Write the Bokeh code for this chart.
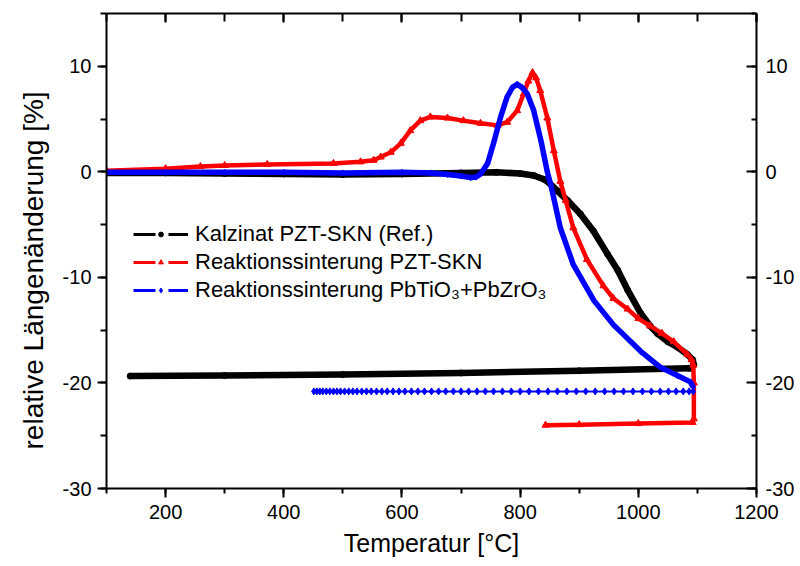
from bokeh.plotting import figure
from bokeh.models import (LinearAxis, Range1d, SingleIntervalTicker, Legend, LegendItem,
                          PrintfTickFormatter)
from bokeh.embed import file_html
from bokeh.resources import INLINE

# ---- data ----
black_T = [100, 200, 300, 400, 500, 600, 700, 760, 800, 823, 840, 850, 863, 880, 902, 924, 948, 965,
           982, 1004, 1020, 1032, 1050, 1066, 1083, 1092, 1094, 1090, 1085, 900, 700, 500, 300, 140]
black_y = [-0.1, -0.1, -0.15, -0.2, -0.25, -0.2, -0.1, -0.05, -0.15, -0.35, -0.7, -1.1, -1.8, -2.7, -4.0,
           -5.6, -7.8, -9.3, -11.2, -13.4, -14.6, -15.3, -16.1, -16.6, -17.3, -17.8, -18.3, -18.6, -18.6,
           -18.85, -19.05, -19.2, -19.3, -19.35]

red_T = [100, 200, 259, 300, 372, 484, 530, 552, 564, 581, 598, 614, 631, 648, 677, 704, 733, 762, 778,
         795, 806, 814, 821, 827, 834, 846, 857, 868, 877, 890, 913, 941, 958, 982, 1000, 1020, 1040, 1060,
         1083, 1090, 1093, 1094, 1094, 1092, 1000, 900, 843]
red_y = [0.1, 0.3, 0.5, 0.6, 0.7, 0.8, 0.95, 1.1, 1.4, 1.85, 2.7, 3.9, 4.85, 5.2, 5.1, 4.85, 4.6, 4.4, 4.7,
         5.8, 7.4, 8.6, 9.4, 8.9, 7.7, 5.1, 2.0, -0.9, -2.7, -5.3, -8.3, -10.8, -12.0, -13.0, -13.9, -14.6,
         -15.3, -16.1, -17.3, -17.8, -18.3, -20.0, -23.4, -23.75, -23.85, -23.95, -24.0]

blue_T = [100, 200, 300, 400, 500, 600, 650, 677, 700, 716, 725, 733, 745, 755, 767, 778, 787, 795, 803,
          812, 823, 835, 846, 853, 868, 890, 925, 958, 1004, 1037, 1066, 1088, 1093]
blue_y = [-0.05, -0.05, -0.05, -0.05, -0.1, -0.05, -0.1, -0.25, -0.4, -0.55, -0.5, -0.2, 0.8, 2.7, 5.2,
          7.1, 8.0, 8.3, 8.0, 7.4, 5.8, 3.0, 0.0, -1.5, -5.3, -8.8, -12.2, -14.5, -17.0, -18.5, -19.3,
          -19.9, -20.4]

blue_cool_T = [1093, 1086, 1076, 1064, 1051, 1037, 1022, 1007, 991, 975, 959, 943, 927, 911, 895, 879,
               863, 847, 831, 815, 800, 785, 770, 755, 741, 727, 713, 700, 687, 674, 662, 650, 638, 627,
               616, 605, 595, 585, 575, 566, 557, 548, 540, 532, 524, 517, 510, 503, 496, 490, 484, 478,
               472, 466, 461, 456, 451]
blue_cool_y = [-20.8] * len(blue_cool_T)

labels = ["Kalzinat PZT-SKN (Ref.)",
          "Reaktionssinterung PZT-SKN",
          "Reaktionssinterung PbTiO\u2083+PbZrO\u2083"]
x_title = "Temperatur [°C]"
y_title = "relative Längenänderung [%]"

FONT = "Liberation Sans"

p = figure(frame_width=650, frame_height=475,
           min_border_left=106, min_border_right=44, min_border_top=13, min_border_bottom=78,
           x_range=Range1d(100, 1200), y_range=Range1d(-30, 15),
           output_backend="svg", toolbar_location=None,
           x_axis_label=x_title,
           # non-breaking spaces push the centred title slightly downwards, as in the reference
           y_axis_label=y_title + "\u00a0" * 5)
p.grid.visible = False
p.outline_line_color = None
p.background_fill_color = "white"
p.border_fill_color = "white"

p.xaxis[0].ticker = SingleIntervalTicker(interval=200, num_minor_ticks=2)
p.yaxis[0].ticker = SingleIntervalTicker(interval=10, num_minor_ticks=2)


def style_axis(ax, tin, tout, mtin, mtout, standoff, labsize="20px", axsize="25px"):
    ax.axis_line_width = 2
    ax.major_tick_line_width = 2
    ax.minor_tick_line_width = 2
    ax.major_tick_in = tin
    ax.major_tick_out = tout
    ax.minor_tick_in = mtin
    ax.minor_tick_out = mtout
    ax.major_label_standoff = standoff
    ax.major_label_text_font = FONT
    ax.major_label_text_font_size = labsize
    ax.major_label_text_color = "black"
    ax.axis_label_text_font = FONT
    ax.axis_label_text_font_size = axsize
    ax.axis_label_text_font_style = "normal"
    ax.axis_label_text_color = "black"
    ax.formatter = PrintfTickFormatter(format="%d")


style_axis(p.xaxis[0], 0, 9, 0, 5, 7, axsize="25px")
p.xaxis[0].axis_label_standoff = 7
style_axis(p.yaxis[0], 0, 9, 0, 6, 6, axsize="28px")
p.yaxis[0].axis_label_standoff = 11

top = LinearAxis(ticker=SingleIntervalTicker(interval=200, num_minor_ticks=2))
style_axis(top, 9, 0, 8, 0, 0, labsize="0px")
top.major_label_text_alpha = 0
p.add_layout(top, "above")

right = LinearAxis(ticker=SingleIntervalTicker(interval=10, num_minor_ticks=2))
style_axis(right, 10, 0, 5, 0, 9)
p.add_layout(right, "right")

# ---- data curves ----
p.line(black_T, black_y, line_color="black", line_width=6.5, line_join="round")
p.scatter(black_T, black_y, marker="circle", color="black", size=6)

p.line(red_T, red_y, line_color="red", line_width=4.5, line_join="round")
p.scatter(red_T, red_y, marker="triangle", color="red", size=7)

p.line(blue_T, blue_y, line_color="blue", line_width=5.5, line_join="round")
p.scatter(blue_T, blue_y, marker="diamond", color="blue", size=6)

p.line(blue_cool_T, blue_cool_y, line_color="blue", line_width=2)
p.scatter(blue_cool_T, blue_cool_y, marker="diamond", color="blue", size=7)

# ---- legend (glyph-only proxies, NaN data so nothing is drawn in the plot) ----
nan = float("nan")
items = []
for lab, col, mk in zip(labels, ["black", "red", "blue"], ["circle", "triangle", "diamond"]):
    ln = p.line([nan], [nan], line_color=col, line_width=3, line_dash="22 13")
    sc = p.scatter([nan], [nan], marker=mk, color=col, size=5)
    items.append(LegendItem(label=lab, renderers=[ln, sc]))

legend = Legend(items=items, location=(27, 184), glyph_width=55, glyph_height=12,
                label_standoff=7, label_text_font=FONT, label_text_font_size="22px",
                label_text_color="black", label_height=28, spacing=0, padding=0, margin=0,
                border_line_color=None, background_fill_alpha=0)
p.add_layout(legend)

open("out.html", "w").write(file_html(p, INLINE))
